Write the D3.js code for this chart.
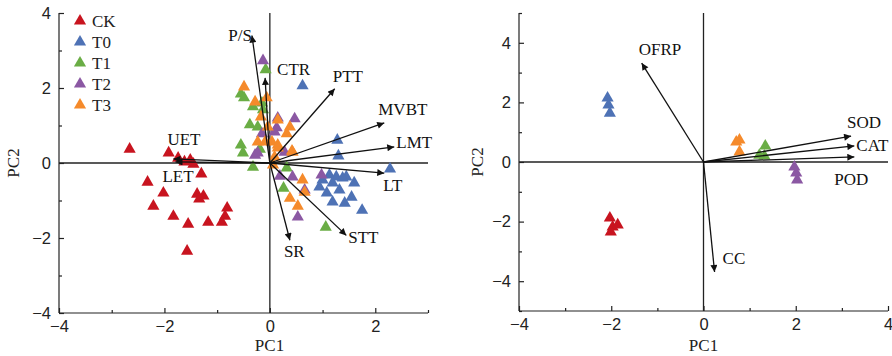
<!DOCTYPE html>
<html lang="en">
<head>
<meta charset="UTF-8">
<title>PCA biplots</title>
<script src="https://d3js.org/d3.v7.min.js"></script>
<style>
  body { margin: 0; padding: 0; background: #fff; }
  svg { display: block; font-family: "Liberation Serif", "Times New Roman", serif; }
  .tick text { font-size: 16.5px; fill: #222; }
  .axis path, .axis line { stroke: #222; stroke-width: 1.2; }
</style>
</head>
<body>
<svg id="chart" width="892" height="356"></svg>
<script>
// Groups and colours
const groups = ['CK', 'T0', 'T1', 'T2', 'T3'];
const groupColors = ['#c8141f', '#4e72b5', '#6aad45', '#8b58a3', '#f58a2b'];

// Left panel scores (PC1, PC2)
const leftCK = [[-2.66,0.37],[-1.92,0.27],[-1.74,0.13],[-1.62,0.03],[-1.51,0.08],[-1.45,-0.03],
  [-1.30,-0.29],[-2.32,-0.51],[-2.02,-0.80],[-2.21,-1.15],[-1.38,-0.83],[-1.26,-0.88],[-1.34,-0.96],
  [-1.83,-1.42],[-1.55,-1.63],[-1.17,-1.58],[-0.81,-1.20],[-0.85,-1.42],[-0.91,-1.58],[-1.57,-2.35]];
const leftT0 = [[0.62,2.06],[1.28,0.61],[1.30,0.19],[2.28,-0.16],[1.13,-0.32],[1.26,-0.37],[1.45,-0.37],
  [1.60,-0.53],[0.94,-0.64],[1.08,-0.80],[1.19,-0.53],[1.32,-0.72],[1.19,-1.04],[1.42,-1.07],
  [1.55,-0.91],[1.75,-1.26],[1.38,-0.40],[1.00,-0.45]];
const leftT1 = [[-0.08,2.49],[-0.55,1.84],[-0.49,1.74],[-0.15,1.60],[-0.32,1.50],[-0.13,1.42],
  [-0.38,1.02],[-0.23,0.96],[-0.55,0.48],[-0.51,0.27],[-0.19,0.37],[-0.32,-0.11],[0.32,-0.13],
  [0.26,-0.67],[1.06,-1.71]];
const leftT2 = [[-0.13,2.73],[0.47,1.18],[0.15,1.20],[0.13,0.94],[-0.15,0.78],[0.09,0.83],[-0.28,0.21],
  [0.28,0.29],[-0.23,0.27],[0.19,-0.35],[0.43,-0.37],[0.98,-0.32],[0.66,-0.72],[0.53,-1.44]];
const leftT3 = [[-0.49,2.03],[-0.06,1.74],[-0.28,1.63],[-0.17,1.23],[0.15,1.15],[-0.04,0.96],[0.38,0.96],
  [0.32,0.78],[-0.23,0.56],[-0.09,0.56],[0.04,0.56],[0.15,0.48],[0.43,0.29],[0.09,0.16],[0.15,0.40],
  [0.42,0.32],[0.06,-0.05],[0.62,-0.45],[0.66,-0.78],[0.38,-0.94],[0.53,-1.15]];

// Left panel loadings
const leftVarNames = ['P/S', 'CTR', 'PTT', 'MVBT', 'LMT', 'LT', 'STT', 'SR', 'UET', 'LET'];
const leftVarPC1 = [-0.34, -0.09, 1.23, 2.17, 2.36, 2.17, 1.45, 0.38, -1.83, -1.79];
const leftVarPC2 = [3.40, 2.27, 1.98, 1.07, 0.43, -0.27, -1.93, -2.06, 0.11, 0.03];

// Right panel scores
const rightCK = [[-2.03,-1.88],[-1.97,-2.18],[-1.86,-2.11],[-2.01,-2.35]];
const rightT0 = [[-2.08,2.15],[-2.06,1.91],[-2.03,1.64]];
const rightT1 = [[1.34,0.54],[1.21,0.23],[1.32,0.20]];
const rightT2 = [[1.97,-0.17],[2.01,-0.37],[2.03,-0.60]];
const rightT3 = [[0.71,0.67],[0.78,0.74],[0.78,0.34]];

// Right panel loadings
const rightVarNames = ['OFRP', 'SOD', 'CAT', 'POD', 'CC'];
const rightVarPC1 = [-1.34, 3.20, 3.27, 3.27, 0.24];
const rightVarPC2 = [3.32, 0.87, 0.54, 0.17, -3.69];

// label placement relative to arrow tip (pixels)
const labelPlace = {
  'P/S': [0, 5, 'end'], 'CTR': [12, -3, 'start'], 'PTT': [-2, -7, 'start'],
  'MVBT': [-6, -8, 'start'], 'LMT': [2, 1, 'start'], 'LT': [-1, 18, 'start'],
  'STT': [2, 8, 'start'], 'SR': [-6, 17, 'start'], 'UET': [-6, -14, 'start'],
  'LET': [-13, 20, 'start'],
  'OFRP': [-3, -8, 'start'], 'SOD': [-4, -8, 'start'], 'CAT': [2, 5, 'start'],
  'POD': [-20, 28, 'start'], 'CC': [8, -8, 'start']
};

const svg = d3.select('#chart');

svg.append('defs').append('marker')
  .attr('id', 'arrow')
  .attr('viewBox', '0 0 10 10')
  .attr('refX', 10).attr('refY', 5)
  .attr('markerWidth', 9).attr('markerHeight', 7)
  .attr('markerUnits', 'userSpaceOnUse')
  .attr('orient', 'auto')
  .append('path').attr('d', 'M0,0 L10,5 L0,10 Z').attr('fill', '#111');

function drawPanel(cfg) {
  const x = d3.scaleLinear().domain(cfg.xDomain).range(cfg.xRange);
  const y = d3.scaleLinear().domain(cfg.yDomain).range(cfg.yRange);
  const g = svg.append('g');

  // zero lines
  g.append('line')
    .attr('x1', x(cfg.xDomain[0])).attr('x2', x(cfg.xDomain[1]))
    .attr('y1', y(0)).attr('y2', y(0))
    .attr('stroke', '#222').attr('stroke-width', 1.3);
  g.append('line')
    .attr('x1', x(0)).attr('x2', x(0))
    .attr('y1', y(cfg.yDomain[0])).attr('y2', y(cfg.yDomain[1]))
    .attr('stroke', '#222').attr('stroke-width', 1.3);

  // axes (ticks pointing inward)
  const fmt = d => d < 0 ? '\u2212' + Math.abs(d) : String(d);
  const minorX = d3.range(cfg.xDomain[0], cfg.xDomain[1] + 0.01, 1).filter(v => Math.abs(v % 2) === 1);
  const minorY = d3.range(cfg.yDomain[0], cfg.yDomain[1] + 0.01, 1).filter(v => Math.abs(v % 2) === 1);

  const xAxis = g.append('g').attr('class', 'axis')
    .attr('transform', `translate(0,${cfg.yRange[0]})`)
    .call(d3.axisBottom(x).tickValues(cfg.xTicks).tickSize(-5).tickPadding(7).tickFormat(fmt));
  xAxis.select('.domain').attr('d', `M${cfg.xRange[0]},0H${cfg.xRange[1]}`);
  g.append('g').attr('class', 'axis')
    .attr('transform', `translate(0,${cfg.yRange[0]})`)
    .call(d3.axisBottom(x).tickValues(minorX).tickSize(-3).tickFormat(''))
    .select('.domain').remove();

  const yAxis = g.append('g').attr('class', 'axis')
    .attr('transform', `translate(${cfg.xRange[0]},0)`)
    .call(d3.axisLeft(y).tickValues(cfg.yTicks).tickSize(-5).tickPadding(8).tickFormat(fmt));
  yAxis.select('.domain').attr('d', `M0,${cfg.yRange[0]}V${cfg.yRange[1]}`);
  g.append('g').attr('class', 'axis')
    .attr('transform', `translate(${cfg.xRange[0]},0)`)
    .call(d3.axisLeft(y).tickValues(minorY).tickSize(-3).tickFormat(''))
    .select('.domain').remove();

  // axis titles
  g.append('text')
    .attr('x', (cfg.xRange[0] + cfg.xRange[1]) / 2 + cfg.titleShift).attr('y', 351)
    .attr('text-anchor', 'middle').attr('font-size', 17).attr('fill', '#222')
    .text('PC1');
  g.append('text')
    .attr('transform', `translate(${cfg.xRange[0] - cfg.yTitleGap},${y(0)}) rotate(-90)`)
    .attr('text-anchor', 'middle').attr('font-size', 17).attr('fill', '#222')
    .text('PC2');

  // score points
  const tri = d3.symbol().type(d3.symbolTriangle).size(64);
  cfg.series.forEach((pts, i) => {
    g.append('g').selectAll('path')
      .data(pts)
      .enter().append('path')
      .attr('d', tri)
      .attr('transform', d => `translate(${x(d[0])},${y(d[1])})`)
      .attr('fill', groupColors[i]);
  });

  // loading arrows
  cfg.names.forEach((name, i) => {
    const tx = x(cfg.pc1[i]), ty = y(cfg.pc2[i]);
    g.append('line')
      .attr('x1', x(0)).attr('y1', y(0))
      .attr('x2', tx).attr('y2', ty)
      .attr('stroke', '#111').attr('stroke-width', 1.3)
      .attr('marker-end', 'url(#arrow)');
    const p = labelPlace[name];
    g.append('text')
      .attr('x', tx + p[0]).attr('y', ty + p[1])
      .attr('text-anchor', p[2])
      .attr('font-size', 17).attr('fill', '#111')
      .text(name);
  });

  return { x, y, g };
}

drawPanel({
  xDomain: [-4, 3], xRange: [59, 428],
  yDomain: [-4, 4], yRange: [313, 13],
  xTicks: [-4, -2, 0, 2], yTicks: [-4, -2, 0, 2, 4],
  titleShift: 26, yTitleGap: 40,
  series: [leftCK, leftT0, leftT1, leftT2, leftT3],
  names: leftVarNames, pc1: leftVarPC1, pc2: leftVarPC2
});

drawPanel({
  xDomain: [-4, 4], xRange: [519, 888],
  yDomain: [-5, 5], yRange: [311, 13],
  xTicks: [-4, -2, 0, 2, 4], yTicks: [-4, -2, 0, 2, 4],
  titleShift: 0, yTitleGap: 36,
  series: [rightCK, rightT0, rightT1, rightT2, rightT3],
  names: rightVarNames, pc1: rightVarPC1, pc2: rightVarPC2
});

// legend
const legend = svg.append('g').attr('transform', 'translate(80,21)');
groups.forEach((name, i) => {
  const row = legend.append('g').attr('transform', `translate(0,${i * 21})`);
  row.append('path').attr('d', d3.symbol().type(d3.symbolTriangle).size(64)).attr('fill', groupColors[i]);
  row.append('text').attr('x', 12).attr('y', 6)
    .attr('font-size', 17).attr('fill', '#222').text(name);
});
</script>
</body>
</html>
